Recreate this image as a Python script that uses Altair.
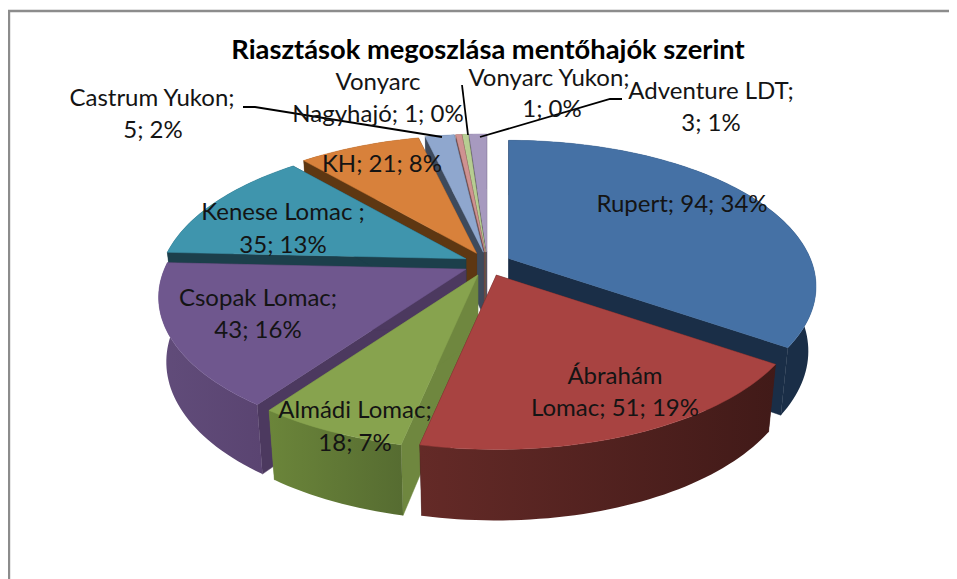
import math
import altair as alt

# ---- data
names = ["Rupert", "Ábrahám Lomac", "Almádi Lomac", "Csopak Lomac", "Kenese Lomac", "KH",
         "Castrum Yukon", "Vonyarc Nagyhajó", "Vonyarc Yukon", "Adventure LDT"]
values = [94, 51, 18, 43, 35, 21, 5, 1, 1, 3]
top_colors = ["#4571A5", "#A84341", "#87A34E", "#6F578E", "#3F95AD", "#D8813B",
              "#8FA7CE", "#CF9291", "#B7CD92", "#A79ABF"]
radial_colors = ["#1A2E47", "#431A18", "#6F873F", "#4C395F", "#1C3F4B", "#5E3712",
                 "#3E4A5C", "#6B4645", "#5C6B45", "#50465F"]
outer_left = ["#1A2E47", "#642A27", "#6B853A", "#614C7A", "#1C3F4B", "#5E3712",
              "#3E4A5C", "#6B4645", "#5C6B45", "#50465F"]
outer_right = ["#1A2E47", "#411A18", "#566C31", "#5A4471", "#1C3F4B", "#5E3712",
               "#3E4A5C", "#6B4645", "#5C6B45", "#50465F"]
draw_order = [9, 8, 7, 6, 5, 4, 0, 3, 2, 1]

title_text = "Riasztások megoszlása mentőhajók szerint"
label_text = ["Castrum Yukon;", "5; 2%", "Vonyarc", "Nagyhajó; 1; 0%", "Vonyarc Yukon;", "1; 0%",
              "Adventure LDT;", "3; 1%", "Rupert; 94; 34%", "Ábrahám", "Lomac; 51; 19%",
              "Almádi Lomac;", "18; 7%", "Csopak Lomac;", "43; 16%", "Kenese Lomac ;", "35; 13%",
              "KH; 21; 8%"]
label_cx = [152, 153, 378, 378, 549, 552, 711, 711, 682, 615, 615, 355, 355, 258, 258, 283, 283, 382]
label_by = [106, 138, 90, 122, 86, 117, 99, 131, 212, 384, 416, 418, 451, 306, 338, 220, 253, 172]

leader_paths = [[[243, 107], [255, 107], [442, 137]],
                [[462, 85], [468, 135]],
                [[622, 99], [610, 99], [480, 137]]]
frame_path = [[9, 579], [9, 11], [957, 11]]

# ---- perspective pie model
CX, CY = 487.5, 264      # pie axis on the top plane
EX, EY = 24, 12          # explosion
F, G, D = 1568, 732, 5.2
H0, H1, SHRINK = 63, 8, 0.975


def surface(apex, a):
    s, c = math.sin(a), math.cos(a)
    return apex[0] + F * s / (D + c), apex[1] - G * c / (D + c), c


def lower(apex, a):
    x, y, c = surface(apex, a)
    return apex[0] + (x - apex[0]) * SHRINK, y + H0 - H1 * c


def feature(ring):
    return {"type": "Feature", "properties": {},
            "geometry": {"type": "Polygon", "coordinates": [ring + [ring[0]]]}}


def geo_layer(features, **mark):
    data = alt.Data(values={"type": "FeatureCollection", "features": features},
                    format=alt.DataFormat(type="json", property="features"))
    return alt.Chart(data).mark_geoshape(**mark).project(
        type="identity", scale=1, translate=[-8, -8])


total = sum(values)
slices = []
cum = 0.0
for v in values:
    a0 = cum / total * 2 * math.pi
    cum += v
    a1 = cum / total * 2 * math.pi
    mid = (a0 + a1) / 2
    slices.append((a0, a1, (CX + EX * math.sin(mid), CY - EY * math.cos(mid))))

layers = []
layers.append(geo_layer([{"type": "Feature", "properties": {},
                          "geometry": {"type": "LineString", "coordinates": frame_path}}],
                        filled=False, stroke="#8C8C8C", strokeWidth=2.4))

for i in draw_order:
    a0, a1, apex = slices[i]
    n = max(4, int((a1 - a0) * 40))
    angles = [a0 + (a1 - a0) * k / n for k in range(n + 1)]
    top_arc = [list(surface(apex, a)[:2]) for a in angles]
    low_arc = [list(lower(apex, a)) for a in angles]
    low_apex = [apex[0], apex[1] + H0]
    # radial walls
    wall_a = [list(apex), top_arc[0], low_arc[0], low_apex]
    wall_b = [list(apex), top_arc[-1], low_arc[-1], low_apex]
    layers.append(geo_layer([feature(wall_a), feature(wall_b)],
                            fill=radial_colors[i], stroke=radial_colors[i], strokeWidth=0.5))
    # curved wall
    grad = alt.LinearGradient(gradient="linear", x1=0, x2=1, y1=0, y2=0,
                              stops=[alt.GradientStop(color=outer_left[i], offset=0),
                                     alt.GradientStop(color=outer_right[i], offset=1)])
    layers.append(geo_layer([feature(top_arc + low_arc[::-1])], fill=grad))
    # top face
    layers.append(geo_layer([feature([list(apex)] + top_arc)],
                            fill=top_colors[i], stroke=top_colors[i], strokeWidth=0.5))

for path in leader_paths:
    layers.append(geo_layer([{"type": "Feature", "properties": {},
                              "geometry": {"type": "LineString", "coordinates": path}}],
                            filled=False, stroke="#000000", strokeWidth=1.8))

rows = [{"t": t, "x": x - 8, "y": y - 8} for t, x, y in zip(label_text, label_cx, label_by)]
labels = alt.Chart(alt.Data(values=rows)).mark_text(
    font="Lato", fontSize=24, color="#141414", align="center", baseline="alphabetic"
).encode(x=alt.X("x:Q", scale=None, axis=None), y=alt.Y("y:Q", scale=None, axis=None), text="t:N")

title = alt.Chart(alt.Data(values=[{"t": title_text, "x": 488 - 8, "y": 59 - 8}])).mark_text(
    font="Lato", fontSize=27.3, fontWeight="bold", color="#000000", align="center", baseline="alphabetic"
).encode(x=alt.X("x:Q", scale=None, axis=None), y=alt.Y("y:Q", scale=None, axis=None), text="t:N")

chart = alt.layer(*layers, labels, title).properties(
    width=941, height=571, padding=0, autosize=alt.AutoSizeParams(type="none"),
    background="white"
).configure_view(stroke=None)

chart.save("out.html", embed_options={"renderer": "svg", "actions": False})
